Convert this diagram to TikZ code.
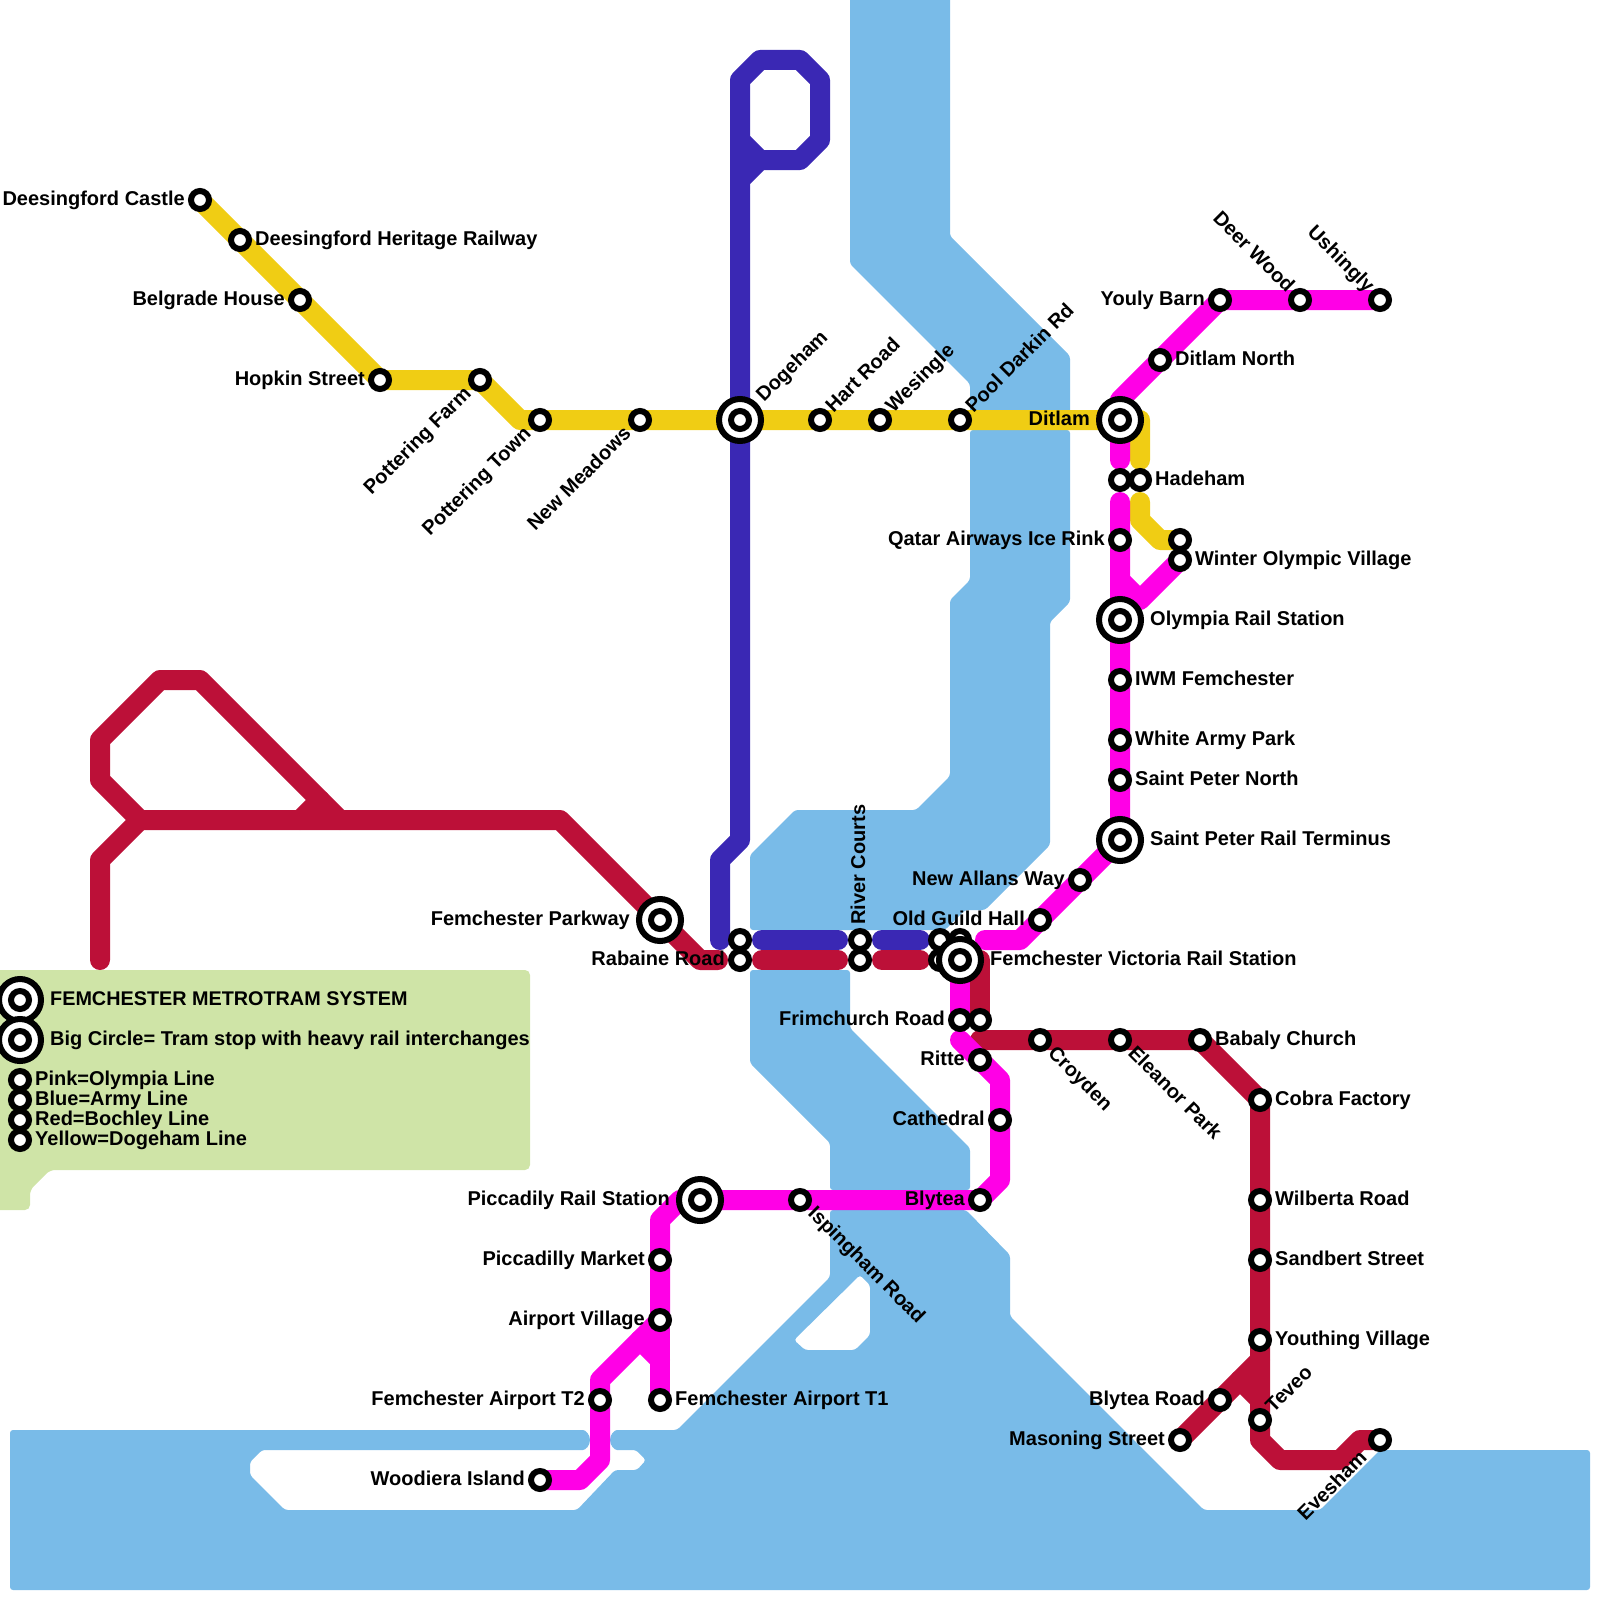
\documentclass[tikz,border=0pt]{standalone}
\usepackage{fontspec}
\setmainfont{Liberation Sans}
\definecolor{water}{HTML}{79BBE8}
\definecolor{legendgreen}{HTML}{CFE4A7}
\definecolor{olympia}{HTML}{FF00E6}
\definecolor{army}{HTML}{3A28B4}
\definecolor{bochley}{HTML}{BC1038}
\definecolor{dogeham}{HTML}{F0CD14}
\pgfdeclarelayer{waterlayer}
\pgfdeclarelayer{linelayer}
\pgfsetlayers{waterlayer,linelayer,main}
\tikzset{
  stop/.style={circle,draw=black,fill=white,line width=6pt,minimum size=18pt,inner sep=0pt},
  bigstop/.style={circle,draw=black,fill=white,line width=6pt,minimum size=42pt,inner sep=0pt},
  tramline/.style={line width=20pt,line cap=round,line join=round},
  lab/.style={font=\bfseries\fontsize{20}{20}\selectfont,text=black,inner sep=0pt,text height=14pt,text depth=4pt},
  Wlab/.style={lab,anchor=east},
  Elab/.style={lab,anchor=west},
  NE/.style={lab,rotate=45,anchor=west},
  SW/.style={lab,rotate=45,anchor=east},
  SE/.style={lab,rotate=-45,anchor=west},
  NW/.style={lab,rotate=-45,anchor=east},
  waterfill/.style={fill=water,rounded corners=3pt}
}
\newcommand{\bigst}[2]{\node[bigstop] (#1-ring) at (#2) {};\node[stop] (#1) at (#2) {};}
\begin{document}
\begin{tikzpicture}[x=1pt,y=-1pt]
\useasboundingbox (0,0) rectangle (1600,1600);
\clip (0,0) rectangle (1600,1600);
% stops: Dogeham line
\node[stop] (deeCastle) at (200,200) {};
\node[stop] (deeRail) at (240,240) {};
\node[stop] (belgrade) at (300,300) {};
\node[stop] (hopkin) at (380,380) {};
\node[stop] (potFarm) at (480,380) {};
\node[stop] (potTown) at (540,420) {};
\node[stop] (newMeadows) at (640,420) {};
\bigst{dogehamSt}{740,420}
\node[stop] (hart) at (820,420) {};
\node[stop] (wesingle) at (880,420) {};
\node[stop] (pool) at (960,420) {};
\bigst{ditlam}{1120,420}
\node[stop] (hadehamA) at (1120,480) {};
\node[stop] (hadehamB) at (1140,480) {};
\node[stop] (qatar) at (1120,540) {};
\node[stop] (winterA) at (1180,540) {};
\node[stop] (winterB) at (1180,560) {};
\bigst{olympiaSt}{1120,620}
\node[stop] (iwm) at (1120,680) {};
\node[stop] (whiteArmy) at (1120,740) {};
\node[stop] (speterN) at (1120,780) {};
\bigst{speterT}{1120,840}
\node[stop] (newAllans) at (1080,880) {};
\node[stop] (oldGuild) at (1040,920) {};
\node[stop] (ditlamN) at (1160,360) {};
\node[stop] (youly) at (1220,300) {};
\node[stop] (deerWood) at (1300,300) {};
\node[stop] (ushingly) at (1380,300) {};
\bigst{parkway}{660,920}
\node[stop] (rabaineA) at (740,940) {};
\node[stop] (rabaineB) at (740,960) {};
\node[stop] (riverA) at (860,940) {};
\node[stop] (riverB) at (860,960) {};
\node[stop] (vicA) at (940,940) {};
\node[stop] (vicB) at (940,960) {};
\node[stop] (vicC) at (960,940) {};
\bigst{victoria}{960,960}
\node[stop] (frimA) at (960,1020) {};
\node[stop] (frimB) at (980,1020) {};
\node[stop] (ritte) at (980,1060) {};
\node[stop] (cathedral) at (1000,1120) {};
\node[stop] (blytea) at (980,1200) {};
\node[stop] (ispingham) at (800,1200) {};
\bigst{piccRail}{700,1200}
\node[stop] (piccMarket) at (660,1260) {};
\node[stop] (airportV) at (660,1320) {};
\node[stop] (airportT2) at (600,1400) {};
\node[stop] (airportT1) at (660,1400) {};
\node[stop] (woodiera) at (540,1480) {};
\node[stop] (croyden) at (1040,1040) {};
\node[stop] (eleanor) at (1120,1040) {};
\node[stop] (babaly) at (1200,1040) {};
\node[stop] (cobra) at (1260,1100) {};
\node[stop] (wilberta) at (1260,1200) {};
\node[stop] (sandbert) at (1260,1260) {};
\node[stop] (youthing) at (1260,1340) {};
\node[stop] (blyteaRd) at (1220,1400) {};
\node[stop] (masoning) at (1180,1440) {};
\node[stop] (teveo) at (1260,1420) {};
\node[stop] (evesham) at (1380,1440) {};
% legend stops
\bigst{legA}{20,1000}
\bigst{legB}{20,1040}
\node[stop] (legC) at (20,1080) {};
\node[stop] (legD) at (20,1100) {};
\node[stop] (legE) at (20,1120) {};
\node[stop] (legF) at (20,1140) {};

\begin{pgfonlayer}{waterlayer}
\fill[waterfill] (850,-10) -- (950,-10) -- (950,236) -- (1070,356) -- (1070,420) -- (970,420) -- (970,384) -- (850,264) -- cycle;
\fill[waterfill] (970,430) -- (1070,430) -- (1070,602) -- (1050,622) -- (1050,845) -- (985,910) -- (965,910) -- (945,930) -- (750,930) -- (750,855) -- (795,810) -- (916,810) -- (950,776) -- (950,600) -- (970,580) -- cycle;
\fill[waterfill] (750,970) -- (850,970) -- (850,1028) -- (970,1148) -- (970,1190) -- (830,1190) -- (830,1143) -- (750,1063) -- cycle;
\fill[waterfill,even odd rule] (10,1430) -- (580,1430) arc[start angle=90,end angle=-90,radius=10pt] -- (262,1450) -- (250,1462) -- (250,1475) -- (285,1510) -- (577,1510) -- (615,1470) -- (637,1470) -- (646,1460) -- (636,1450) -- (620,1450) arc[start angle=270,end angle=90,radius=10pt] -- (677,1430) -- (830,1277) -- (830,1210) -- (966,1210) -- (1010,1255) -- (1010,1316) -- (1204,1510) -- (1320,1510) -- (1380,1450) -- (1590,1450) -- (1590,1590) -- (10,1590) -- cycle
  (860,1275) -- (870,1285) -- (870,1335) -- (855,1350) -- (805,1350) -- (794,1340) -- cycle;
\fill[legendgreen,rounded corners=5pt] (-10,970) -- (530,970) -- (530,1170) -- (50,1170) -- (30,1190) -- (30,1210) -- (-10,1210) -- cycle;
\end{pgfonlayer}

\begin{pgfonlayer}{linelayer}
% Bochley line
\draw[tramline,bochley] (100,960) -- (100,860) -- (140,820) -- (100,780) -- (100,740) -- (160,680) -- (200,680) -- (340,820);
\draw[tramline,bochley] (320,800) -- (300,820);
\draw[tramline,bochley] (140,820) -- (560,820) -- (parkway.center) -- (700,960) -- (718,960);
\draw[tramline,bochley] (762,960) -- (838,960);
\draw[tramline,bochley] (882,960) -- (920,960);
\draw[tramline,bochley] (victoria.center) -- (980,960) -- (frimB.center);
\draw[tramline,bochley] (980,1040) -- (croyden.center) -- (eleanor.center) -- (babaly.center) -- (cobra.center) -- (wilberta.center) -- (sandbert.center) -- (youthing.center) -- (teveo.center) -- (1260,1440) -- (1280,1460) -- (1340,1460) -- (1360,1440) -- (evesham.center);
\draw[tramline,bochley] (masoning.center) -- (blyteaRd.center) -- (1240,1380) -- (1260,1360);
\draw[tramline,bochley] (1240,1380) -- (1260,1400);
% Army line
\draw[tramline,army] (720,940) -- (720,860) -- (740,840) -- (740,80) -- (760,60) -- (800,60) -- (820,80) -- (820,140) -- (800,160) -- (760,160) -- (740,180);
\draw[tramline,army] (760,160) -- (740,140);
\draw[tramline,army] (762,940) -- (838,940);
\draw[tramline,army] (882,940) -- (920,940);
% Dogeham line
\draw[tramline,dogeham] (deeCastle.center) -- (hopkin.center) -- (potFarm.center) -- (520,420) -- (potTown.center) -- (ditlam.center) -- (1140,420) -- (1140,460);
\draw[tramline,dogeham] (1140,502) -- (1140,520) -- (1160,540) -- (winterA.center);
% Olympia line
\draw[tramline,olympia] (ushingly.center) -- (youly.center) -- (1120,400) -- (1120,460);
\draw[tramline,olympia] (1120,502) -- (speterT.center) -- (oldGuild.center) -- (1020,940) -- (985,940);
\draw[tramline,olympia] (1120,580) -- (1140,600) -- (winterB.center);
\draw[tramline,olympia] (victoria.center) -- (frimA.center);
\draw[tramline,olympia] (960,1040) -- (ritte.center) -- (1000,1080) -- (1000,1180) -- (blytea.center) -- (piccRail.center) -- (680,1200) -- (660,1220) -- (airportV.center) -- (640,1340) -- (600,1380) -- (600,1460) -- (580,1480) -- (woodiera.center);
\draw[tramline,olympia] (airportT1.center) -- (airportV.center);
\draw[tramline,olympia] (660,1360) -- (640,1340);
\end{pgfonlayer}

% labels
\node[Wlab,xshift=-15pt] (l1) at (deeCastle) {Deesingford Castle};
\node[Elab,xshift=15pt] (l2) at (deeRail) {Deesingford Heritage Railway};
\node[Wlab,xshift=-15pt] (l3) at (belgrade) {Belgrade House};
\node[Wlab,xshift=-15pt] (l4) at (hopkin) {Hopkin Street};
\node[SW,xshift=-16pt] (l5) at (potFarm) {Pottering Farm};
\node[SW,xshift=-16pt] (l6) at (potTown) {Pottering Town};
\node[SW,xshift=-16pt] (l7) at (newMeadows) {New Meadows};
\node[NE,xshift=29pt] (l8) at (dogehamSt) {Dogeham};
\node[NE,xshift=14pt] (l9) at (hart) {Hart Road};
\node[NE,xshift=14pt] (l10) at (wesingle) {Wesingle};
\node[NE,xshift=14pt] (l11) at (pool) {Pool Darkin Rd};
\node[Wlab,xshift=-30pt] (l12) at (ditlam) {Ditlam};
\node[Elab,xshift=15pt] (l13) at (hadehamB) {Hadeham};
\node[Wlab,xshift=-15pt] (l14) at (qatar) {Qatar Airways Ice Rink};
\node[Elab,xshift=15pt] (l15) at (winterB) {Winter Olympic Village};
\node[Elab,xshift=30pt] (l16) at (olympiaSt) {Olympia Rail Station};
\node[Elab,xshift=15pt] (l17) at (iwm) {IWM Femchester};
\node[Elab,xshift=15pt] (l18) at (whiteArmy) {White Army Park};
\node[Elab,xshift=15pt] (l19) at (speterN) {Saint Peter North};
\node[Elab,xshift=30pt] (l20) at (speterT) {Saint Peter Rail Terminus};
\node[Wlab,xshift=-15pt] (l21) at (newAllans) {New Allans Way};
\node[Wlab,xshift=-15pt] (l22) at (oldGuild) {Old Guild Hall};
\node[Elab,xshift=15pt] (l23) at (ditlamN) {Ditlam North};
\node[Wlab,xshift=-15pt] (l24) at (youly) {Youly Barn};
\node[NW,xshift=-14pt] (l25) at (deerWood) {Deer Wood};
\node[NW,xshift=-14pt] (l26) at (ushingly) {Ushingly};
\node[Wlab,xshift=-30pt] (l27) at (parkway) {Femchester Parkway};
\node[Wlab,xshift=-15pt] (l28) at (rabaineB) {Rabaine Road};
\node[lab,rotate=90,anchor=west,xshift=15pt] (l29) at (riverA) {River Courts};
\node[Elab,xshift=30pt] (l30) at (victoria) {Femchester Victoria Rail Station};
\node[Wlab,xshift=-15pt] (l31) at (frimA) {Frimchurch Road};
\node[Wlab,xshift=-15pt] (l32) at (ritte) {Ritte};
\node[Wlab,xshift=-15pt] (l33) at (cathedral) {Cathedral};
\node[Wlab,xshift=-15pt] (l34) at (blytea) {Blytea};
\node[SE,xshift=15pt] (l35) at (ispingham) {Ispingham Road};
\node[Wlab,xshift=-30pt] (l36) at (piccRail) {Piccadily Rail Station};
\node[Wlab,xshift=-15pt] (l37) at (piccMarket) {Piccadilly Market};
\node[Wlab,xshift=-15pt] (l38) at (airportV) {Airport Village};
\node[Wlab,xshift=-15pt] (l39) at (airportT2) {Femchester Airport T2};
\node[Elab,xshift=15pt] (l40) at (airportT1) {Femchester Airport T1};
\node[Wlab,xshift=-15pt] (l41) at (woodiera) {Woodiera Island};
\node[SE,xshift=15pt] (l42) at (croyden) {Croyden};
\node[SE,xshift=15pt] (l43) at (eleanor) {Eleanor Park};
\node[Elab,xshift=15pt] (l44) at (babaly) {Babaly Church};
\node[Elab,xshift=15pt] (l45) at (cobra) {Cobra Factory};
\node[Elab,xshift=15pt] (l46) at (wilberta) {Wilberta Road};
\node[Elab,xshift=15pt] (l47) at (sandbert) {Sandbert Street};
\node[Elab,xshift=15pt] (l48) at (youthing) {Youthing Village};
\node[Wlab,xshift=-15pt] (l49) at (blyteaRd) {Blytea Road};
\node[Wlab,xshift=-15pt] (l50) at (masoning) {Masoning Street};
\node[NE,xshift=14pt] (l51) at (teveo) {Teveo};
\node[SW,xshift=-22pt] (l52) at (evesham) {Evesham};
% legend text
\node[Elab,xshift=30pt,font=\bfseries\fontsize{19.8}{20}\selectfont] (t1) at (legA) {FEMCHESTER METROTRAM SYSTEM};
\node[Elab,xshift=30pt] (t2) at (legB) {Big Circle= Tram stop with heavy rail interchanges};
\node[Elab,xshift=15pt] (t3) at (legC) {Pink=Olympia Line};
\node[Elab,xshift=15pt] (t4) at (legD) {Blue=Army Line};
\node[Elab,xshift=15pt] (t5) at (legE) {Red=Bochley Line};
\node[Elab,xshift=15pt] (t6) at (legF) {Yellow=Dogeham Line};
\end{tikzpicture}
\end{document}
